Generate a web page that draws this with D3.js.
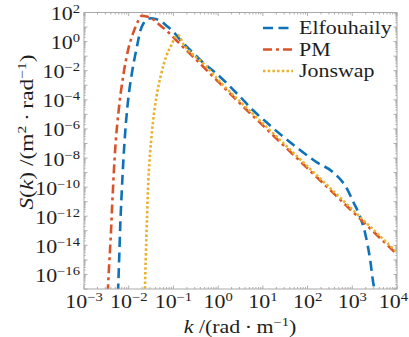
<!DOCTYPE html>
<html>
<head>
<meta charset="utf-8">
<script src="https://cdn.jsdelivr.net/npm/d3@7"></script>
<style>
  html, body { margin: 0; padding: 0; background: #fff; }
  svg { display: block; }
  text { font-family: "Liberation Serif", "DejaVu Serif", serif; fill: #1e1e1e; }
</style>
</head>
<body>
<svg id="chart" width="409" height="337"></svg>
<script>
// Wave-number spectra, stored as log10 values (k in rad/m, S in m^2/rad)
const elfouhailyLogK = [-2.24, -2.21, -2.19, -2.16, -2.12, -2.08, -2.04, -1.98, -1.92, -1.86, -1.80, -1.74, -1.66, -1.58, -1.50, -1.40, -1.30, -1.15, -1.00, -0.85, -0.60, -0.40, 0.04, 0.49, 0.78, 1.10, 1.46, 1.83, 2.21, 2.58, 2.88, 3.02, 3.17, 3.29, 3.40, 3.47, 3.52];
const elfouhailyLogS = [-17.3, -14.6, -12.7, -10.6, -8.2, -6.3, -4.8, -3.2, -2.0, -1.0, -0.1, 0.75, 1.30, 1.55, 1.60, 1.56, 1.45, 1.08, 0.68, 0.12, -0.65, -1.26, -2.41, -3.79, -4.72, -5.60, -6.55, -7.45, -8.30, -9.00, -10.1, -11.0, -12.0, -13.2, -15.0, -16.6, -17.4];

const pmLogK = [-2.47, -2.44, -2.40, -2.36, -2.30, -2.22, -2.12, -2.00, -1.90, -1.80, -1.71, -1.60, -1.45, -1.30, -1.10, -0.90, -0.50, 0.00, 0.64, 1.00, 2.00, 3.00, 4.00];
const pmLogS = [-17.3, -15.5, -13.3, -10.6, -7.3, -4.6, -2.3, -0.4, 0.6, 1.35, 1.78, 1.73, 1.52, 1.12, 0.60, -0.02, -1.22, -2.75, -4.70, -5.76, -8.71, -11.66, -14.62];

const jonswapLogK = [-1.64, -1.62, -1.59, -1.56, -1.52, -1.46, -1.38, -1.28, -1.16, -1.04, -0.95, -0.90, -0.86, -0.80, -0.75, -0.60, -0.30, 0.00, 0.64, 1.00, 2.00, 3.00, 4.00];
const jonswapLogS = [-17.3, -15.0, -12.0, -9.5, -7.6, -5.6, -3.8, -2.3, -1.0, -0.2, 0.35, 0.45, 0.35, -0.05, -0.30, -0.78, -1.60, -2.62, -4.56, -5.62, -8.58, -11.53, -14.48];

const seriesNames = ["Elfouhaily", "PM", "Jonswap"];
const xTickExponents = [-3, -2, -1, 0, 1, 2, 3, 4];
const yTickExponents = [2, 0, -2, -4, -6, -8, -10, -12, -14, -16];

const svg = d3.select("#chart");
const W = 409, H = 337;
const plotLeft = 84, plotRight = 397, plotTop = 12.5, plotBottom = 289;
const stretch = 1.22;   // glyphs are drawn a little wide
const fontSize = 18, supSize = 12;

const x = d3.scaleLog().domain([1e-3, 1e4]).range([plotLeft, plotRight]);
const y = d3.scaleLog().domain([1e-17, 1e2]).range([plotBottom, plotTop]);

const series = [
  { name: seriesNames[0], k: elfouhailyLogK, s: elfouhailyLogS, color: "#0f72b8", dash: "10,5.5", width: 2.6 },
  { name: seriesNames[1], k: pmLogK, s: pmLogS, color: "#d9532a", dash: "9,4,3,4", width: 2.6 },
  { name: seriesNames[2], k: jonswapLogK, s: jonswapLogS, color: "#eab22c", dash: "2.5,2.2", width: 2.6 }
];

svg.append("rect").attr("width", W).attr("height", H).attr("fill", "#fff");

svg.append("defs").append("clipPath").attr("id", "plot-clip")
  .append("rect").attr("x", plotLeft).attr("y", plotTop)
  .attr("width", plotRight - plotLeft).attr("height", plotBottom - plotTop);

// Inward ticks on all four sides
const ticks = svg.append("g").attr("stroke", "#9a9a9a").attr("stroke-width", 0.8);
const xMinor = [], yMinor = [];
for (let e = -3; e < 4; e++) for (let m = 2; m < 10; m++) xMinor.push(m * Math.pow(10, e));
for (let e = -17; e < 2; e++) for (let m = 2; m < 10; m++) yMinor.push(m * Math.pow(10, e));
const xMajor = d3.range(-3, 5).map(e => Math.pow(10, e));
const yMajor = d3.range(-17, 3).map(e => Math.pow(10, e));

function vTicks(vals, len) {
  vals.forEach(v => {
    const px = x(v);
    ticks.append("line").attr("x1", px).attr("x2", px).attr("y1", plotBottom).attr("y2", plotBottom - len);
    ticks.append("line").attr("x1", px).attr("x2", px).attr("y1", plotTop).attr("y2", plotTop + len);
  });
}
function hTicks(vals, len) {
  vals.forEach(v => {
    const py = y(v);
    ticks.append("line").attr("y1", py).attr("y2", py).attr("x1", plotLeft).attr("x2", plotLeft + len);
    ticks.append("line").attr("y1", py).attr("y2", py).attr("x1", plotRight).attr("x2", plotRight - len);
  });
}
vTicks(xMajor, 3.5); vTicks(xMinor, 2);
hTicks(yMajor, 3.5); hTicks(yMinor, 1.6);

// Curves
const line = d3.line()
  .x(d => x(d[0]))
  .y(d => y(d[1]))
  .curve(d3.curveMonotoneX);

const plot = svg.append("g").attr("clip-path", "url(#plot-clip)");
series.forEach(sr => {
  const pts = sr.k.map((lk, i) => [Math.pow(10, lk), Math.pow(10, sr.s[i])]);
  plot.append("path")
    .datum(pts)
    .attr("d", line)
    .attr("fill", "none")
    .attr("stroke", sr.color)
    .attr("stroke-width", sr.width)
    .attr("stroke-dasharray", sr.dash);
});

// Frame
svg.append("rect")
  .attr("x", plotLeft).attr("y", plotTop)
  .attr("width", plotRight - plotLeft).attr("height", plotBottom - plotTop)
  .attr("fill", "none").attr("stroke", "#a9a9a9").attr("stroke-width", 1);

// Text helper: a text element placed at (px, py), widened along its run
function label(px, py, anchor, rotate) {
  const tf = `translate(${px},${py})` + (rotate ? ` rotate(${rotate})` : "") + ` scale(${stretch},1)`;
  return svg.append("text").attr("transform", tf).attr("text-anchor", anchor).attr("font-size", fontSize);
}
function sup(sel, str) {
  sel.append("tspan").attr("dy", -7).attr("font-size", supSize).text(str);
  return sel;
}
function base(sel, str, italic, back) {
  const t = sel.append("tspan").text(str);
  if (back) t.attr("dy", 7);
  if (italic) t.attr("font-style", "italic");
  return sel;
}
const expText = e => (e < 0 ? "\u2212" + (-e) : String(e));

// x tick labels (kept inside the canvas at the right edge)
xTickExponents.forEach(e => {
  const halfW = (2 * 0.5 * fontSize + String(expText(e)).length * 0.5 * supSize) * stretch / 2;
  const px = Math.min(x(Math.pow(10, e)), W - 1 - halfW);
  const t = label(px, 308, "middle");
  base(t, "10");
  sup(t, expText(e));
});

// y tick labels
yTickExponents.forEach(e => {
  const t = label(80, y(Math.pow(10, e)) + 7.5, "end");
  base(t, "10");
  sup(t, expText(e));
});

// Axis titles
const xt = label(240, 333, "middle");
base(xt, "k", true);
base(xt, " /(rad\u2009\u00b7\u2009m");
sup(xt, "\u22121");
base(xt, ")", false, true);

const yt = svg.append("text")
  .attr("transform", "translate(33,132) rotate(-90) scale(1.3,1)")
  .attr("text-anchor", "middle").attr("font-size", fontSize);
base(yt, "S", true);
base(yt, "(");
base(yt, "k", true);
base(yt, ") /(m");
sup(yt, "2");
base(yt, "\u2009\u00b7\u2009rad", false, true);
sup(yt, "\u22121");
base(yt, ")", false, true);

// Legend
const legendY = [28, 49.5, 71];
series.forEach((sr, i) => {
  svg.append("line")
    .attr("x1", 263).attr("x2", 293)
    .attr("y1", legendY[i]).attr("y2", legendY[i])
    .attr("stroke", sr.color).attr("stroke-width", sr.width)
    .attr("stroke-dasharray", sr.dash);
  const t = label(299, legendY[i] + 6, "start");
  base(t, sr.name);
});
</script>
</body>
</html>
